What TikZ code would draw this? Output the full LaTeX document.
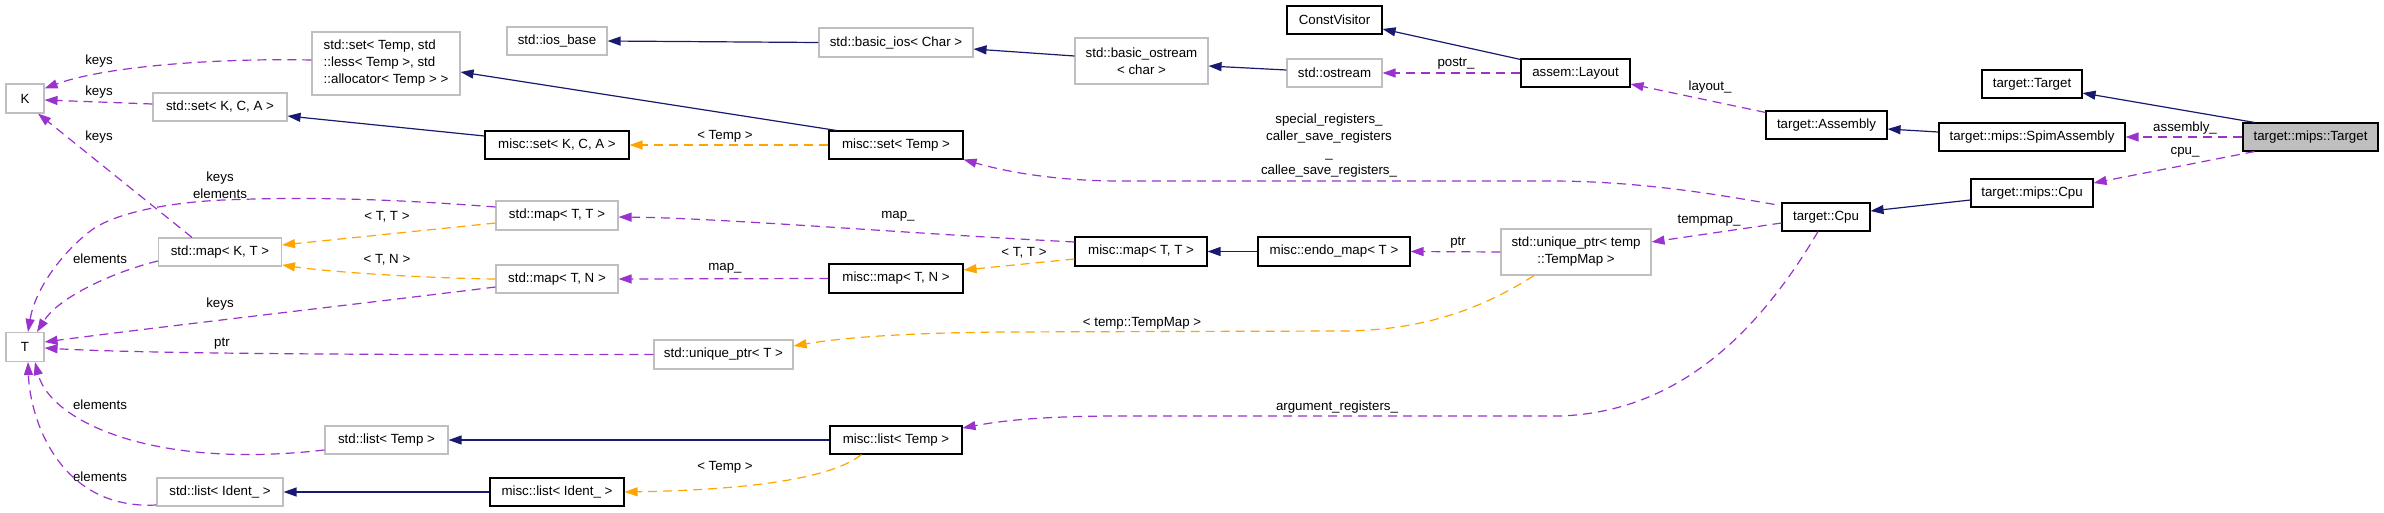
\documentclass[tikz,border=0pt]{standalone}
\usepackage{fontspec}
\usetikzlibrary{arrows.meta,calc}
\newfontfamily\dxfam{Liberation Sans}
\newcommand\dxfont{\dxfam\fontsize{13.3}{17}\selectfont}
\definecolor{grey75}{HTML}{BFBFBF}
\definecolor{mblue}{HTML}{191970}
\definecolor{dorchid}{HTML}{9A32CD}
\definecolor{dorange}{HTML}{FFA500}
\tikzset{
  box/.style={fill=white, line width=1.1pt, inner sep=0pt, font=\dxfont, minimum height=28pt},
  cls/.style={box, draw=black},
  ext/.style={box, draw=grey75},
  cur/.style={box, draw=black, fill=grey75},
  tipa/.style={-{Triangle[length=13pt,width=9pt]}},
  inh/.style={draw=mblue, line width=1.2pt, tipa},
  usee/.style={draw=dorchid, line width=1.2pt, dash pattern=on 9pt off 6pt, tipa},
  tmpl/.style={draw=dorange, line width=1.2pt, dash pattern=on 9pt off 6pt, tipa},
  lbl/.style={font=\dxfont, inner sep=0pt, align=center}
}
\begin{document}
\begin{tikzpicture}[x=1pt,y=-1pt]
\useasboundingbox[fill=white] (0,0) rectangle (2384,512);
% nodes
\node[ext, minimum width=38pt, minimum height=29pt] (K) at (25,98.5) {K};
\node[ext, minimum width=38pt, minimum height=29pt] (T) at (25,347) {T};
\node[ext, minimum width=134pt] (setK) at (220,107) {std::set< K, C, A >};
\node[ext, minimum width=148pt, minimum height=63pt, align=left] (setTemp) at (386,63.5) {std::set< Temp, std\\::less< Temp >, std\\::allocator< Temp > >};
\node[ext, minimum width=123pt] (mapKT) at (220,252) {std::map< K, T >};
\node[ext, minimum width=122pt, minimum height=29pt] (mapTT) at (557,215.5) {std::map< T, T >};
\node[ext, minimum width=122pt] (mapTN) at (557,279) {std::map< T, N >};
\node[ext, minimum width=123pt] (listTemp) at (386.5,440) {std::list< Temp >};
\node[ext, minimum width=126pt] (listIdent) at (220,492) {std::list< Ident\_ >};
\node[cls, minimum width=144pt] (miscSetK) at (557,145) {misc::set< K, C, A >};
\node[ext, minimum width=100pt] (iosBase) at (557,41) {std::ios\_base};
\node[cls, minimum width=134pt] (miscListIdent) at (557,492) {misc::list< Ident\_ >};
\node[ext, minimum width=139pt, minimum height=29pt] (uptrT) at (723.5,354.5) {std::unique\_ptr< T >};
\node[ext, minimum width=154pt, minimum height=29pt] (basicIos) at (896,42.5) {std::basic\_ios< Char >};
\node[cls, minimum width=134pt] (miscSetTemp) at (896,145) {misc::set< Temp >};
\node[cls, minimum width=134pt, minimum height=29pt] (miscMapTN) at (896,278.5) {misc::map< T, N >};
\node[cls, minimum width=132pt] (miscListTemp) at (896,440) {misc::list< Temp >};
\node[ext, minimum width=133pt, minimum height=46pt, align=center] (basicOstream) at (1141.5,61) {std::basic\_ostream\\< char >};
\node[cls, minimum width=132pt, minimum height=29pt] (miscMapTT) at (1141,251.5) {misc::map< T, T >};
\node[ext, minimum width=95pt] (ostream) at (1334.5,73) {std::ostream};
\node[cls, minimum width=95pt] (constV) at (1334.5,20) {ConstVisitor};
\node[cls, minimum width=152pt, minimum height=29pt] (endoMap) at (1334,251.5) {misc::endo\_map< T >};
\node[cls, minimum width=109pt] (layout) at (1575.5,73) {assem::Layout};
\node[ext, minimum width=150pt, minimum height=46pt, align=center] (uptrTM) at (1576,252) {std::unique\_ptr< temp\\::TempMap >};
\node[cls, minimum width=121pt] (assembly) at (1826.5,125) {target::Assembly};
\node[cls, minimum width=88pt] (cpu) at (1826,217) {target::Cpu};
\node[cls, minimum width=100pt] (tTarget) at (2032,84) {target::Target};
\node[cls, minimum width=186pt] (spim) at (2032,137) {target::mips::SpimAssembly};
\node[cls, minimum width=122pt] (mipsCpu) at (2032,193) {target::mips::Cpu};
\node[cur, minimum width=135pt] (mipsT) at (2310.5,137) {target::mips::Target};

% edges to K
\draw[usee] ($(setTemp.west)+(0,-3.5)$) .. controls (220,58) and (105,66) .. ($(K.east)+(0,-10)$);
\draw[usee] ($(setK.west)+(0,-3)$) -- ($(K.east)+(0,1.5)$);
\draw[usee] ($(mapKT.north)+(-28,0)$) -- ($(K.south)+(13,0)$);
\node[lbl] (lk1) at (99,61) {keys};
\node[lbl] (lk2) at (99,92) {keys};
\node[lbl] (lk3) at (99,137) {keys};

% edges to T
\draw[usee] ($(mapTT.west)+(0,-8.5)$) .. controls (380,198) and (300,197) .. (223,200)
   .. controls (160,203) and (110,215) .. (89,232) .. controls (60,255) and (35,290) .. ($(T.north)+(3,0)$);
\node[lbl] (lke) at (220,185.5) {keys\\elements};
\draw[usee] ($(mapKT.west)+(0,9)$) .. controls (120,270) and (60,295) .. ($(T.north)+(12,0)$);
\node[lbl] (le1) at (100,259) {elements};
\draw[usee] ($(mapTN.west)+(0,8)$) .. controls (350,305) and (150,328) .. ($(T.east)+(0,-5)$);
\node[lbl] (lk4) at (220,304) {keys};
\draw[usee] (uptrT.west) .. controls (400,355) and (150,354) .. ($(T.east)+(0,1)$);
\node[lbl] (lp1) at (222,344) {ptr};
\draw[usee] ($(listTemp.west)+(0,10)$) .. controls (150,470) and (50,420) .. ($(T.south)+(10,0)$);
\node[lbl] (le2) at (100,405) {elements};
\draw[usee] ($(listIdent.west)+(0,13)$) .. controls (60,510) and (30,420) .. ($(T.south)+(3,0)$);
\node[lbl] (le3) at (100,477) {elements};

% inheritance
\draw[inh] ($(miscSetK.west)+(0,-9)$) -- ($(setK.east)+(0,9)$);
\draw[inh] ($(miscSetTemp.north west)+(8,0)$) -- ($(setTemp.east)+(0,8.5)$);
\draw[inh] (basicIos.west) -- (iosBase.east);
\draw[inh] ($(basicOstream.west)+(0,-5)$) -- ($(basicIos.east)+(0,6.5)$);
\draw[inh] ($(ostream.west)+(0,-3)$) -- ($(basicOstream.east)+(0,5)$);
\draw[inh] ($(layout.north west)+(0,1)$) -- ($(constV.east)+(0,9)$);
\draw[inh] ($(spim.west)+(0,-5)$) -- ($(assembly.east)+(0,4)$);
\draw[inh] ($(mipsT.north west)+(12,0)$) -- ($(tTarget.east)+(0,9)$);
\draw[inh] ($(mipsCpu.west)+(0,7)$) -- ($(cpu.east)+(0,-6)$);
\draw[inh] (endoMap.west) -- (miscMapTT.east);
\draw[inh] (miscListTemp.west) -- (listTemp.east);
\draw[inh] (miscListIdent.west) -- (listIdent.east);

% template instances
\draw[tmpl] (miscSetTemp.west) -- (miscSetK.east);
\node[lbl] (lt1) at (725,136) {< Temp >};
\draw[tmpl] ($(miscMapTT.west)+(0,7.5)$) -- ($(miscMapTN.east)+(0,-8.5)$);
\node[lbl] (lt2) at (1024,253) {< T, T >};
\draw[tmpl] ($(mapTT.west)+(0,7.5)$) -- ($(mapKT.east)+(0,-7)$);
\node[lbl] (lt3) at (387,217) {< T, T >};
\draw[tmpl] (mapTN.west) .. controls (420,278) and (330,272) .. ($(mapKT.east)+(0,13)$);
\node[lbl] (lt4) at (387,260) {< T, N >};
\draw[tmpl] ($(uptrTM.south)+(-42,0)$) .. controls (1480,310) and (1420,331) .. (1340,331)
   -- (1000,332) .. controls (900,333) and (840,338) .. ($(uptrT.east)+(0,-8.5)$);
\node[lbl] (lt5) at (1142,323) {< temp::TempMap >};
\draw[tmpl] ($(miscListTemp.south west)+(32,0)$) .. controls (830,480) and (740,490) .. (miscListIdent.east);
\node[lbl] (lt6) at (725,467) {< Temp >};

% usage
\draw[usee] (layout.west) -- (ostream.east);
\node[lbl] (lu1) at (1456,64) {postr\_};
\draw[usee] ($(assembly.north west)+(0,2)$) -- ($(layout.east)+(0,11)$);
\node[lbl] (lu2) at (1710,87) {layout\_};
\draw[usee] (mipsT.west) -- (spim.east);
\node[lbl] (lu3) at (2185,128) {assembly\_};
\draw[usee] ($(mipsT.south west)+(12,0)$) -- ($(mipsCpu.east)+(0,-10)$);
\node[lbl] (lu4) at (2185,152) {cpu\_};
\draw[usee] ($(cpu.north west)+(-7,2)$) .. controls (1720,195) and (1640,181) .. (1550,181)
   -- (1121,181) .. controls (1050,181) and (1000,170) .. (miscSetTemp.south east);
\node[lbl] (lu5) at (1329,146) {special\_registers\_\\caller\_save\_registers\\\_\\callee\_save\_registers\_};
\draw[usee] ($(cpu.west)+(0,6)$) -- ($(uptrTM.east)+(0,-10)$);
\node[lbl] (lu6) at (1709,221) {tempmap\_};
\draw[usee] ($(cpu.south)+(-8,0)$) .. controls (1760,330) and (1680,412) .. (1560,416)
   -- (1121,416) .. controls (1040,416) and (1000,421) .. ($(miscListTemp.east)+(0,-12)$);
\node[lbl] (lu7) at (1337,407) {argument\_registers\_};
\draw[usee] (uptrTM.west) -- (endoMap.east);
\node[lbl] (lu8) at (1458,243) {ptr};
\draw[usee] ($(miscMapTT.west)+(0,-9.5)$) .. controls (900,233) and (720,218) .. ($(mapTT.east)+(0,1.5)$);
\node[lbl] (lu9) at (898,216) {map\_};
\draw[usee] (miscMapTN.west) -- (mapTN.east);
\node[lbl] (lu10) at (725,268) {map\_};
\end{tikzpicture}
\end{document}
